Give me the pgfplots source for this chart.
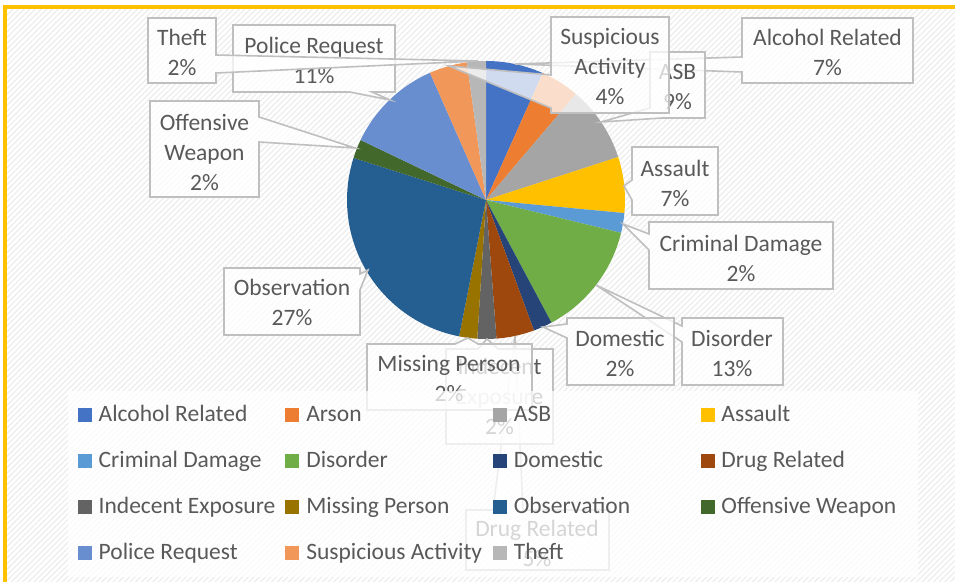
\documentclass[border=0pt]{standalone}
\usepackage{pgfplots}
\pgfplotsset{compat=1.18}
\usepackage{pgfplotstable}
\usepackage{fontspec}
\setmainfont{Carlito}
\usetikzlibrary{patterns.meta}

\definecolor{c0}{HTML}{4472C4}
\definecolor{c1}{HTML}{ED7D31}
\definecolor{c2}{HTML}{A5A5A5}
\definecolor{c3}{HTML}{FFC000}
\definecolor{c4}{HTML}{5B9BD5}
\definecolor{c5}{HTML}{70AD47}
\definecolor{c6}{HTML}{264478}
\definecolor{c7}{HTML}{9E480E}
\definecolor{c8}{HTML}{636363}
\definecolor{c9}{HTML}{997300}
\definecolor{c10}{HTML}{255E91}
\definecolor{c11}{HTML}{43682B}
\definecolor{c12}{HTML}{698ED0}
\definecolor{c13}{HTML}{F1975A}
\definecolor{c14}{HTML}{B7B7B7}
\definecolor{txt}{HTML}{595959}
\definecolor{boxgray}{HTML}{BFBFBF}
\definecolor{gold}{HTML}{FFC000}

\pgfplotstableread[col sep=comma]{
name,value
Alcohol Related,6.7
Arson,4.5
ASB,8.8
Assault,6.5
Criminal Damage,2.3
Disorder,13.4
Domestic,2.2
Drug Related,4.4
Indecent Exposure,2.2
Missing Person,2.1
Observation,26.8
Offensive Weapon,2.2
Police Request,11.3
Suspicious Activity,4.4
Theft,2.2
}\piedata

\newcommand{\legsq}[1]{\addlegendimage{legend image code/.code={\fill[#1, fill opacity=1] (0pt,-3.25pt) rectangle (6.5pt,3.25pt);}}}

\tikzset{
  callout/.style={fill=white, fill opacity=0.75, draw=boxgray, draw opacity=1, line width=0.8pt, line join=miter},
  lbl/.style={align=center, text=txt, font=\fontsize{11.75}{15}\selectfont, inner sep=0pt, text opacity=1}
}

\begin{document}
\begin{tikzpicture}
\begin{axis}[
  x=0.5pt, y=0.5pt, y dir=reverse,
  xmin=0, xmax=955, ymin=0, ymax=582,
  enlargelimits=false, hide axis, clip=false,
  legend columns=4,
  legend cell align=left,
  legend style={
    at={(axis cs:67.5,391)}, anchor=north west,
    draw=none, fill=white, fill opacity=0.75, text opacity=1,
    inner xsep=5pt, inner ysep=4.5pt,
    /tikz/row sep=8pt, /tikz/column sep=0pt,
    font=\fontsize{11.75}{15}\selectfont, text=txt,
    nodes={inner xsep=3.5pt, inner ysep=2pt, text width=89.9pt, align=flush left,
           text height=8.5pt, text depth=2.5pt, text opacity=1},
  },
]
% background
\fill[white] (0,0) rectangle (955,582);
\fill[pattern={Lines[angle=45,distance=2pt,line width=0.6pt]}, pattern color=black!7] (7,9) rectangle (955,582);
\fill[gold] (3,5) rectangle (955,9);
\fill[gold] (3,5) rectangle (7,582);

% pie sectors from the table
\pgfmathsetmacro\cum{0}
\pgfplotsforeachungrouped \i in {0,...,14}{%
  \pgfplotstablegetelem{\i}{value}\of\piedata
  \pgfmathsetmacro\sa{90-3.6*\cum}%
  \pgfmathsetmacro\cum{\cum+\pgfplotsretval}%
  \pgfmathsetmacro\ea{90-3.6*\cum}%
  \edef\temp{\noexpand\fill[c\i] (486,200) -- ++(\sa:69.5pt) arc[start angle=\sa, end angle=\ea, radius=69.5pt] -- cycle;}%
  \temp
}

% callouts in series order
\draw[callout] (742,18) -- (913,18) -- (913,83) -- (742,83) -- (742,72) -- (515,64) -- (742,57) -- cycle;
\node[lbl] at (827.5,52.5) {Alcohol Related\\7\%};

\draw[callout] (650,52) -- (705,52) -- (705,118) -- (662,118) -- (601,122) -- (650,108) -- cycle;
\node[lbl] at (677.5,87) {ASB\\9\%};

\draw[callout] (632,147) -- (718,147) -- (718,215) -- (632,215) -- (632,200) -- (624,186) -- (632,180) -- cycle;
\node[lbl] at (675,183) {Assault\\7\%};

\draw[callout] (649,222) -- (833,222) -- (833,289) -- (649,289) -- (649,250) -- (623,224) -- (649,234) -- cycle;
\node[lbl] at (741,258) {Criminal Damage\\2\%};

\draw[callout] (682,318) -- (783,318) -- (783,385) -- (682,385) -- (682,342) -- (596,285) -- (682,326) -- cycle;
\node[lbl] at (732,353) {Disorder\\13\%};

\draw[callout] (567,318) -- (674,318) -- (674,385) -- (567,385) -- (567,338) -- (543,327) -- (567,324) -- cycle;
\node[lbl] at (620,353) {Domestic\\2\%};

\draw[callout] (466,510) -- (493,510) -- (515,336) -- (523,510) -- (609,510) -- (609,570) -- (466,570) -- cycle;
\node[lbl] at (537,543) {Drug Related\\5\%};

\draw[callout] (446,349) -- (478,349) -- (487,339) -- (498,349) -- (553,349) -- (553,444) -- (446,444) -- cycle;
\node[lbl] at (499.5,396) {Indecent\\Exposure\\2\%};

\draw[callout] (367,344) -- (455,344) -- (468,338) -- (478,344) -- (532,344) -- (532,410) -- (367,410) -- cycle;
\node[lbl] at (449,378.5) {Missing Person\\2\%};

\draw[callout] (224,268) -- (360,268) -- (360,274) -- (368,270) -- (360,290) -- (360,335) -- (224,335) -- cycle;
\node[lbl] at (292,302) {Observation\\27\%};

\draw[callout] (150,101) -- (259,101) -- (259,117) -- (355,148) -- (259,142) -- (259,197) -- (150,197) -- cycle;
\node[lbl] at (204.5,152) {Offensive\\Weapon\\2\%};

\draw[callout] (233,25) -- (395,25) -- (395,92) -- (372,92) -- (390,100) -- (350,92) -- (233,92) -- cycle;
\node[lbl] at (314,60) {Police Request\\11\%};

\draw[callout] (551,17) -- (669,17) -- (669,113) -- (551,113) -- (551,108) -- (449,66) -- (551,75) -- cycle;
\node[lbl] at (610,67) {Suspicious\\Activity\\4\%};

\draw[callout] (148,18) -- (216,18) -- (216,55) -- (478,61) -- (216,73) -- (216,83) -- (148,83) -- cycle;
\node[lbl] at (182,52) {Theft\\2\%};

% legend
\legsq{c0}\legsq{c1}\legsq{c2}\legsq{c3}\legsq{c4}\legsq{c5}\legsq{c6}\legsq{c7}
\legsq{c8}\legsq{c9}\legsq{c10}\legsq{c11}\legsq{c12}\legsq{c13}\legsq{c14}
\legend{Alcohol Related, Arson, ASB, Assault, Criminal Damage, Disorder, Domestic, Drug Related, Indecent Exposure, Missing Person, Observation, Offensive Weapon, Police Request, Suspicious Activity, Theft}
\end{axis}
\end{tikzpicture}
\end{document}
